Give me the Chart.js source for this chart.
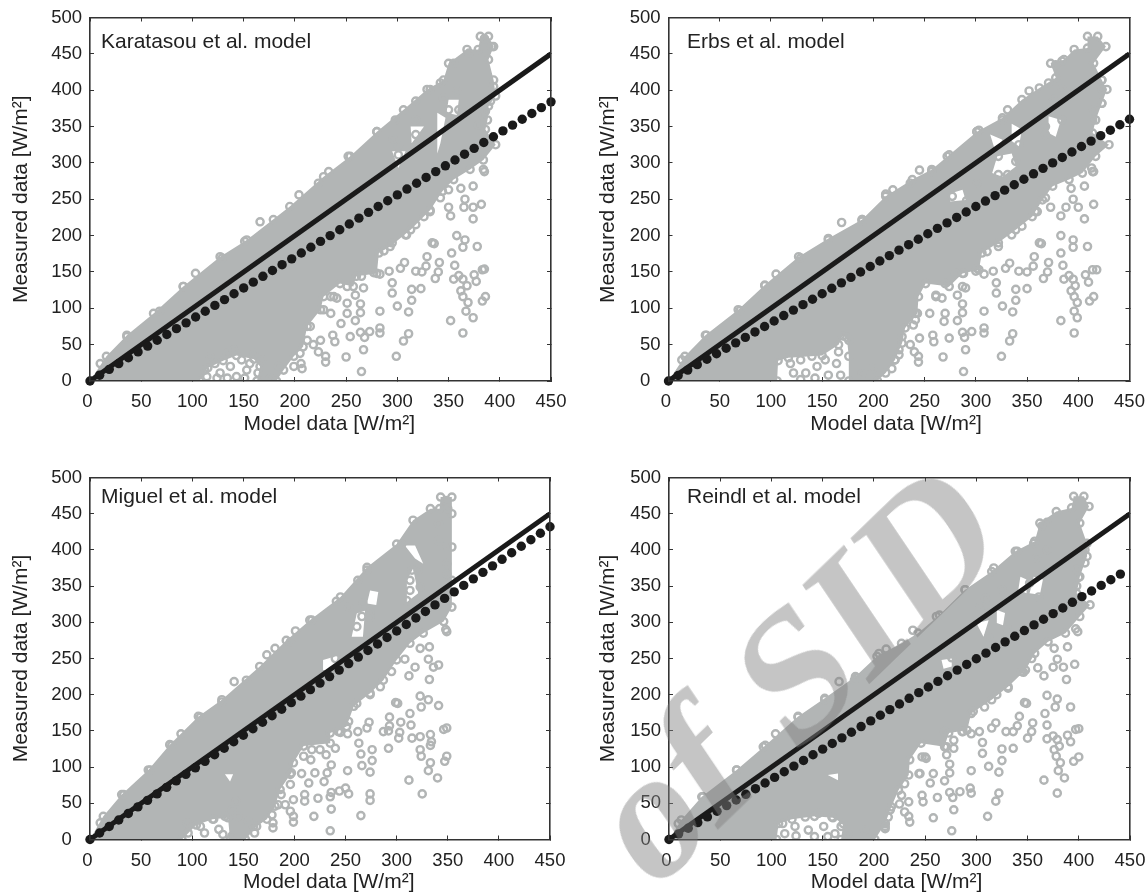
<!DOCTYPE html>
<html><head><meta charset="utf-8">
<script src="https://cdn.jsdelivr.net/npm/chart.js@4"></script>
<style>
html,body{margin:0;padding:0;background:#fff;width:1148px;height:895px;overflow:hidden;position:relative}
canvas{position:absolute;display:block}
#mark{position:absolute;right:122px;top:395px;font:bold 180px "Liberation Serif",serif;line-height:180px;word-spacing:4px;white-space:nowrap;color:rgba(127,127,127,.45);transform:rotate(-44deg) skewX(-10deg);transform-origin:100% 100%;pointer-events:none}
</style></head><body>
<canvas id="c0" width="600" height="460" style="left:0;top:-20px"></canvas>
<canvas id="c1" width="600" height="460" style="left:574px;top:-20px"></canvas>
<canvas id="c2" width="600" height="455" style="left:0;top:440px"></canvas>
<canvas id="c3" width="600" height="455" style="left:574px;top:440px"></canvas>
<div id="mark">of SID</div>
<script>
const xTitle='Model data [W/m²]', yTitle='Measured data [W/m²]';
const modelNames=['Karatasou et al. model','Erbs et al. model','Miguel et al. model','Reindl et al. model'];
const identityLine=[[0,0],[450,450]];
const fitX=[0,9.4,18.8,28.1,37.5,46.9,56.3,65.6,75,84.4,93.8,103.1,112.5,121.9,131.3,140.6,150,159.4,168.8,178.1,187.5,196.9,206.3,215.6,225,234.4,243.8,253.1,262.5,271.9,281.3,290.6,300,309.4,318.8,328.1,337.5,346.9,356.3,365.6,375,384.4,393.8,403.1,412.5,421.9,431.3,440.6,450];
const karatasouFit=[0,8,16,24,32,40,48,56,64,72,80,88,96,104,112,120,128,136,144,152,160,168,176,184,192,200,208,216,224,232,240,248,256,264,272,280,288,296,304,312,320,328,336,344,352,360,368,376,384];
const erbsFit=[0,7.5,15,22.5,30,37.5,45,52.5,60,67.5,75,82.5,90,97.5,105,112.5,120,127.5,135,142.5,150,157.5,165,172.5,180,187.5,195,202.5,210,217.5,225,232.5,240,247.5,255,262.5,270,277.5,285,292.5,300,307.5,315,322.5,330,337.5,345,352.5,360];
const miguelFit=[0,9,18,27,36,45,54,63,72,81,90,99,108,117,126,135,144,153,162,171,180,189,198,207,216,225,234,243,252,261,270,279,288,297,306,315,324,333,342,351,360,369,378,387,396,405,414,423,432];
const reindlFit=[0,7.8,15.6,23.4,31.2,39,46.8,54.6,62.4,70.2,78,85.8,93.6,101.4,109.2,117,124.8,132.6,140.4,148.2,156,163.8,171.6,179.4,187.2,195,202.8,210.6,218.4,226.2,234,241.8,249.6,257.4,265.2,273,280.8,288.6,296.4,304.2,312,319.8,327.6,335.4,343.2,351,358.8,366.6];

const karatasouRings=[[103,148],[166,219],[334,190],[336,189],[358,200],[366,194],[364,184],[378,185],[353,176],[329,171],[341,163],[328,158],[307,163],[303,155],[356,159],[318,151],[324,150],[340,150],[337,141],[355,140],[360,145],[364,140],[375,146],[377,137],[385,154],[383,153],[368,131],[362,124],[364,116],[369,108],[383,110],[386,116],[367,96],[374,87],[352,83],[364,66],[295,135],[295,121],[314,126],[323,127],[314,111],[300,103],[311,95],[283,96],[311,65],[306,55],[299,34],[283,73],[283,66],[273,68],[264,67],[267,43],[265,13],[268,60],[254,61],[250,33],[264,106],[264,94],[259,83],[245,79],[251,93],[235,93],[237,63],[239,54],[225,56],[218,50],[223,40],[230,34],[230,26],[206,24],[207,17],[235,116],[241,114],[251,107],[267,128],[259,118],[292,151],[283,147],[277,149],[362,265],[374,268],[366,250],[365,239],[374,239],[382,243],[350,239],[352,227],[374,223],[385,288],[384,291],[332,233],[342,252],[309,201],
[112,15],[114,6],[122,24],[127,11],[134,38],[137,20],[143,6],[148,29],[153,15],[160,38],[164,11],[168,29],[124,4],[134,4],[151,4],[117,34],[140,43],[156,24],
[10,24],[36,61],[68,96],[91,130],[129,169],[151,192],[179,222],[204,256],[223,272],[233,288],[252,309],[280,343],[298,359],[318,385],[332,401],[342,410],[355,437],[370,451],[385,471],[392,460],[345,388],[358,399],[391,385],[384,364],[386,371],[379,352],[394,405],
[326,226],[318,215],[308,201],[295,190],[287,179],[350,263],[301,324],[296,333],[301,311],[318,359],[318,339],[345,389],[360,373],[350,373],[238,116],[251,130],[265,144],[228,98],[215,75],[212,56],[205,38],[199,20],[184,20],[176,4]];
const karatasouCloud=[[0,0],[16,34],[36,63],[62,93],[91,130],[127,171],[153,194],[195,240],[228,281],[254,309],[280,343],[306,373],[329,401],[345,414],[350,437],[368,456],[379,456],[381,474],[389,474],[394,460],[389,442],[394,414],[396,392],[389,378],[388,359],[386,346],[396,325],[384,304],[371,291],[355,277],[344,261],[332,235],[313,208],[293,185],[282,176],[280,148],[260,144],[257,130],[244,134],[228,116],[225,98],[212,75],[208,47],[199,34],[189,15],[182,0],[163,0],[166,20],[160,30],[143,35],[130,28],[115,18],[107,0]];
const karatasouHoles=[[[350,387],[360,387],[358,366],[348,369]],[[339,369],[347,362],[342,327],[339,313]],[[295,316],[308,316],[301,293]],[[313,350],[326,350],[314,327]]];

const erbsRings=[[105,147],[169,218],[245,290],[219,263],[212,257],[189,222],[362,190],[364,189],[383,200],[395,194],[395,184],[409,185],[383,176],[357,171],[371,163],[356,158],[333,162],[329,155],[385,159],[342,151],[350,150],[370,150],[366,141],[386,140],[391,145],[395,140],[407,146],[410,136],[414,153],[418,153],[397,131],[393,124],[396,116],[399,108],[411,110],[415,116],[396,96],[399,87],[383,83],[396,66],[320,135],[320,121],[339,126],[350,127],[339,111],[326,103],[336,95],[308,96],[336,65],[333,55],[325,34],[308,73],[308,66],[296,68],[287,67],[290,43],[288,13],[289,60],[274,59],[268,33],[287,106],[287,94],[282,83],[269,82],[270,93],[255,93],[258,63],[259,54],[245,59],[236,50],[240,40],[244,34],[244,26],[218,17],[225,36],[239,77],[241,93],[261,116],[267,114],[280,148],[290,128],[282,118],[300,151],[308,147],[317,151],[393,265],[406,268],[395,250],[388,239],[400,239],[415,243],[373,239],[383,227],[406,223],[414,288],[413,293],[360,233],[368,252],[335,201],
[119,24],[122,11],[129,29],[134,11],[140,34],[145,20],[153,29],[156,8],[166,40],[164,24],[168,8],[143,4],[129,2],[176,56],
[423,382],[423,401],[423,414],[415,373],[414,359],[384,359],[376,387],[384,401],[371,410],[384,440],[378,435],[352,399],[331,373],[303,345],[272,309],[342,325],[322,309],[331,284],[322,284],[368,350],[368,339],[339,302],[291,248],[277,254],[301,272],[415,288],
[358,233],[345,213],[322,185],[311,178],[301,155],[288,148],[287,130],[261,118],[270,134],[241,84],[228,61],[225,43],[221,29],[199,17],[189,10],
[13,29],[37,63],[70,97],[94,131],[129,169],[156,194],[189,220],[236,272],[257,288],[301,343],[326,359]];
const erbsCloud=[[0,0],[16,34],[36,63],[68,98],[94,132],[127,171],[156,196],[189,222],[212,254],[238,277],[257,291],[274,311],[301,343],[326,362],[345,387],[362,403],[378,417],[373,437],[386,442],[396,456],[409,458],[409,474],[419,474],[427,460],[415,437],[423,414],[428,401],[423,382],[417,359],[414,341],[430,325],[417,309],[404,286],[391,277],[375,268],[365,249],[355,226],[339,208],[322,190],[306,176],[303,153],[287,148],[274,130],[251,134],[244,116],[243,93],[231,73],[228,52],[221,29],[212,11],[204,0],[176,0],[176,34],[174,60],[170,62],[166,50],[150,35],[117,32],[107,28],[106,0]];
const erbsHoles=[[[371,364],[383,359],[378,336],[371,341]],[[335,354],[345,346],[342,323],[335,330]],[[321,309],[335,313],[339,295],[326,281],[316,286]],[[275,258],[287,263],[290,249],[275,247]],[[314,339],[326,332],[319,316]]];

const miguelRings=[[89,146],[141,218],[201,288],[153,220],[299,189],[301,188],[323,198],[331,193],[324,183],[341,185],[313,174],[293,169],[304,162],[293,157],[273,162],[271,154],[314,158],[287,149],[292,150],[303,148],[302,140],[315,140],[323,142],[333,145],[334,135],[346,152],[349,154],[333,130],[323,124],[324,115],[333,106],[347,108],[349,115],[331,95],[340,85],[312,82],[325,63],[263,133],[265,118],[276,124],[292,126],[276,109],[266,102],[274,93],[252,95],[274,63],[274,54],[265,33],[250,71],[253,63],[244,67],[236,65],[236,42],[235,12],[235,59],[223,57],[219,32],[236,103],[232,92],[229,80],[214,78],[220,92],[207,91],[210,62],[210,53],[199,55],[191,48],[196,39],[199,32],[199,24],[179,23],[179,16],[209,115],[216,110],[240,126],[231,117],[245,148],[252,146],[262,149],[323,264],[332,266],[331,249],[318,238],[332,221],[341,241],[336,238],[308,249],[312,226],[349,287],[348,290],[295,232],[274,200],
[95,23],[96,9],[108,18],[112,9],[121,28],[126,14],[132,32],[139,41],[143,53],[130,7],[160,18],[161,9],[145,32],[155,25],[139,5],
[267,326],[274,314],[266,308],[261,294],[274,307],[315,372],[321,372],[313,358],[313,344],[349,381],[349,367],[341,436],[348,468],[350,457],[341,413],[347,404],[305,408],[271,372],[240,250],[253,321],[310,330],[323,349],
[284,211],[261,188],[253,163],[243,149],[225,124],[217,124],[196,90],[196,76],[187,62],[184,48],[178,34],
[10,23],[33,62],[59,96],[80,130],[108,169],[129,190],[173,255],[181,264],[196,273],[217,303],[241,329],[262,358]];
const miguelCloud=[[0,0],[13,32],[31,62],[57,96],[78,131],[106,170],[129,193],[166,239],[192,275],[215,303],[245,335],[271,376],[300,408],[316,441],[333,457],[342,457],[343,473],[354,473],[354,450],[354,404],[354,358],[354,321],[346,301],[326,285],[313,271],[300,248],[287,220],[274,202],[258,184],[251,156],[235,147],[235,133],[209,129],[199,106],[197,92],[186,69],[181,46],[173,28],[163,18],[152,0],[137,0],[135,30],[120,28],[104,20],[90,0]];
const miguelHoles=[[[274,344],[282,342],[280,324],[271,326]],[[308,406],[318,406],[326,381],[318,388]],[[310,358],[316,374],[321,340],[310,328]],[[261,312],[269,316],[267,280],[256,280]],[[228,248],[243,254],[238,234],[228,234]],[[132,90],[140,90],[137,80]]];

const reindlRings=[[104,146],[166,218],[238,289],[212,263],[205,257],[183,223],[347,189],[349,188],[369,199],[379,194],[377,183],[392,183],[367,174],[342,170],[355,161],[340,157],[319,161],[315,154],[369,158],[329,149],[336,149],[354,149],[350,140],[369,139],[375,143],[379,138],[389,144],[392,135],[397,152],[400,153],[381,129],[376,124],[378,115],[382,106],[395,108],[400,114],[380,95],[386,85],[366,82],[379,64],[306,134],[306,119],[325,125],[336,126],[325,109],[312,101],[322,93],[295,95],[322,64],[319,53],[311,32],[294,71],[295,64],[284,66],[274,65],[278,41],[276,12],[277,58],[262,58],[258,30],[274,104],[274,92],[269,81],[255,78],[258,91],[244,91],[247,61],[248,52],[234,52],[225,49],[230,38],[234,32],[235,24],[211,22],[211,15],[247,114],[251,112],[269,149],[278,126],[271,117],[287,149],[295,146],[303,149],[376,264],[389,266],[379,249],[375,238],[385,238],[396,242],[360,237],[366,226],[388,221],[399,287],[397,291],[346,231],[354,250],[320,200],
[111,22],[113,8],[123,18],[124,5],[133,31],[136,13],[146,36],[151,18],[159,31],[162,8],[168,18],[142,4],[155,4],[175,8],[191,13],
[406,400],[406,382],[398,373],[400,362],[398,350],[369,400],[359,389],[356,409],[369,438],[364,433],[340,398],[317,375],[289,345],[261,308],[330,292],[312,280],[304,322],[312,322],[352,354],[361,335],[325,345],[309,333],[276,251],[370,373],
[344,232],[331,209],[308,183],[297,177],[286,149],[278,137],[271,128],[250,114],[245,91],[230,77],[227,61],[216,41],[214,31],[211,18],
[9,22],[33,59],[66,96],[92,128],[126,169],[152,193],[181,220]];
const reindlCloud=[[0,0],[12,27],[32,59],[66,96],[94,130],[126,170],[152,195],[182,225],[203,253],[227,271],[243,285],[264,310],[289,345],[315,370],[338,398],[357,412],[362,437],[378,453],[393,458],[395,474],[405,474],[410,460],[401,437],[408,409],[408,391],[401,363],[398,340],[411,324],[401,308],[387,285],[370,273],[357,257],[348,234],[331,211],[315,193],[295,174],[291,151],[273,147],[269,128],[246,133],[235,110],[234,89],[224,68],[217,45],[211,22],[201,0],[168,0],[170,22],[160,30],[142,32],[120,28],[107,22],[105,0]];
const reindlHoles=[[[356,363],[365,359],[362,338],[352,340]],[[320,317],[328,313],[326,296],[320,299]],[[343,363],[349,359],[349,340],[341,345]],[[266,248],[276,250],[276,239],[268,236]],[[300,299],[312,303],[307,280]],[[155,89],[165,91],[165,82]]];

const RING='#b2b5b5', INK='#1a1a1a', TXT='#222';
const FONT='"Liberation Sans",Arial,sans-serif';
const NB='\u00a0';
const layout=[
 {id:'c0',l:90,r:49,t:37.5,b:59,yPad:9,xPad:3,lx:101,ly:62,xText:NB+NB+NB+xTitle},
 {id:'c1',l:94.5,r:44.5,t:37.5,b:59,yPad:22,xPad:3,lx:113,ly:62,xText:xTitle+NB},
 {id:'c2',l:90,r:50,t:37.5,b:55.5,yPad:9,xPad:0,lx:101,ly:57,xText:NB+NB+NB+xTitle},
 {id:'c3',l:95,r:44,t:37.5,b:55.5,yPad:22,xPad:0,lx:113,ly:57,xText:xTitle+NB}];
const rings=[karatasouRings,erbsRings,miguelRings,reindlRings];
const clouds=[karatasouCloud,erbsCloud,miguelCloud,reindlCloud];
const holes=[karatasouHoles,erbsHoles,miguelHoles,reindlHoles];
const fits=[karatasouFit,erbsFit,miguelFit,reindlFit];
const pts=a=>a.map(p=>({x:p[0],y:p[1]}));
function cloudPath(c,h){
  const path=[...c,c[0]];
  h.forEach(loop=>{const r=[...loop].reverse();path.push(...r,r[0],c[0]);});
  return pts(path);
}
const ringR=3.6, ringW=2.4;
layout.forEach((L,i)=>{
  const borderOpt={color:'#333',width:1.6,z:1};
  const gridOpt={drawOnChartArea:false,drawTicks:true,tickLength:-4,tickWidth:1,tickColor:'#333'};
  new Chart(document.getElementById(L.id),{
    type:'scatter',
    data:{datasets:[
      {data:fits[i].map((y,k)=>({x:fitX[k],y})),pointRadius:4.7,pointBackgroundColor:INK,pointBorderWidth:0,clip:false,order:0},
      {data:pts(identityLine),showLine:true,borderColor:INK,borderWidth:5,pointRadius:0,order:1},
      {data:pts(rings[i]),pointRadius:ringR,pointBorderWidth:ringW,pointBorderColor:RING,pointBackgroundColor:'transparent',order:2},
      {data:cloudPath(clouds[i],holes[i]),showLine:true,fill:'shape',tension:0,backgroundColor:RING,borderColor:RING,borderWidth:0,pointRadius:c=>c.dataIndex<clouds[i].length?ringR:0,pointBorderWidth:ringW,pointBorderColor:RING,pointBackgroundColor:'transparent',order:3}
    ]},
    options:{
      responsive:false,animation:false,events:[],
      layout:{padding:0},
      plugins:{legend:{display:false},tooltip:{enabled:false},title:{display:false}},
      scales:{
        x:{type:'linear',position:'bottom',min:0,max:450,border:borderOpt,grid:gridOpt,
           ticks:{stepSize:50,autoSkip:false,maxRotation:0,padding:14,color:TXT,font:{family:FONT,size:18.5},callback:v=>v===0?'0 ':String(v)},
           title:{display:true,text:L.xText,color:TXT,font:{family:FONT,size:21},padding:{top:0,bottom:L.xPad}},
           afterFit:s=>{s.height=L.b;}},
        y:{type:'linear',position:'left',min:0,max:500,border:borderOpt,grid:gridOpt,
           ticks:{stepSize:50,autoSkip:false,padding:12,color:TXT,font:{family:FONT,size:18.5},callback:v=>v===0?'0  ':String(v)},
           title:{display:true,text:yTitle,color:TXT,font:{family:FONT,size:21},padding:{top:L.yPad,bottom:0}},
           afterFit:s=>{s.width=L.l;}},
        xTop:{axis:'x',type:'linear',position:'top',min:0,max:450,border:borderOpt,grid:gridOpt,
           ticks:{display:false,stepSize:50,autoSkip:false},afterFit:s=>{s.height=L.t;}},
        yRight:{axis:'y',type:'linear',position:'right',min:0,max:500,border:borderOpt,grid:gridOpt,
           ticks:{display:false,stepSize:50,autoSkip:false},afterFit:s=>{s.width=L.r;}}
      }
    },
    plugins:[{id:'modelName',afterDraw(c){
      const g=c.ctx;g.save();g.font='21px '+FONT;g.fillStyle=TXT;g.textBaseline='middle';
      g.fillText(modelNames[i],L.lx,L.ly);g.restore();
    }}]
  });
});
</script></body></html>
